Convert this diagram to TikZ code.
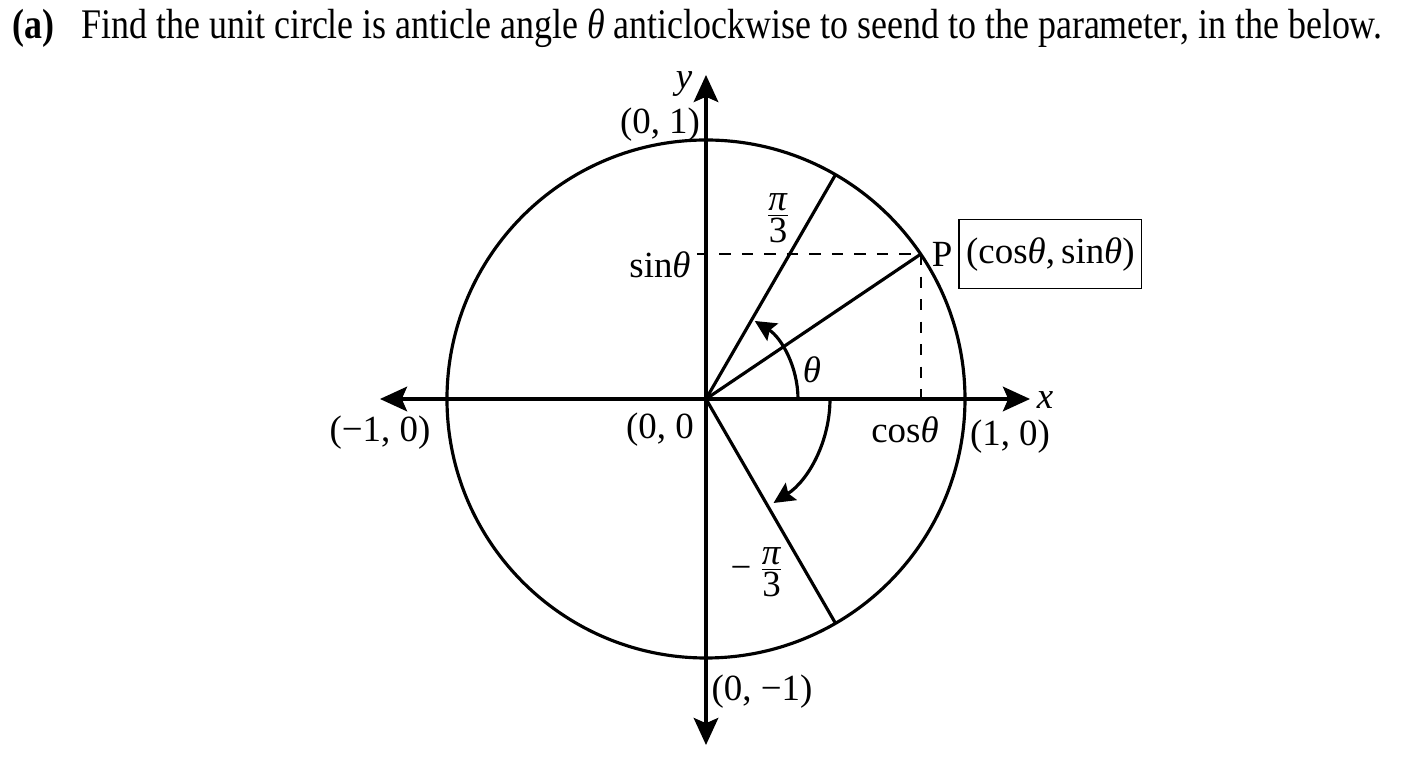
\documentclass[tikz,border=0pt]{standalone}
\usepackage{fontspec}
\setmainfont{Liberation Serif}
\usetikzlibrary{arrows.meta,positioning}

\newcommand{\angth}{\textit{θ}}
\newcommand{\angpi}{\textit{π}}

\begin{document}
\begin{tikzpicture}[
  axis/.style={line width=0.9pt,-{Stealth[length=7.7pt,width=7pt,inset=1.5pt]}},
  ray/.style={line width=0.9pt},
  guide/.style={line width=0.6pt,dash pattern=on 3.2pt off 3.2pt},
  turn/.style={line width=0.9pt,-{Stealth[length=6pt,width=5.8pt,inset=1pt]}},
  lbl/.style={font=\fontsize{10.5}{12}\selectfont,inner sep=1pt},
]
\useasboundingbox (-7.06,-3.69) rectangle (7.02,3.99);

% points on the unit circle
\coordinate (O) at (0,0);
\coordinate (P) at (34:2.59);
\coordinate (A) at (60:2.59);
\coordinate (B) at (-60:2.59);
\coordinate (xl) at (-3.26,0);
\coordinate (xr) at (3.24,0);
\coordinate (yt) at (0,3.24);
\coordinate (yb) at (0,-3.46);
\coordinate (sy) at ([xshift=-2.6pt]O |- P);
\coordinate (cx) at (O -| P);

\node[font=\fontsize{12}{14}\selectfont,anchor=base west,inner sep=0pt,xscale=0.852,transform shape] (title) at (-6.94,3.6)
  {\textbf{(a)}\hspace{0.75em}Find the unit circle is anticle angle \angth\ anticlockwise to seend to the parameter, in the below.};

\draw[line width=0.9pt] (O) circle (2.59);
\draw[axis] (O) -- (xr);
\draw[axis] (O) -- (xl);
\draw[axis] (O) -- (yt);
\draw[axis] (O) -- (yb);
\draw[ray] (O) -- (A);
\draw[ray] (O) -- (P);
\draw[ray] (O) -- (B);
\draw[guide] (sy) -- (P);
\draw[guide] (P) -- (cx);
\draw[turn] (O) ++(0:0.92) arc[start angle=0,end angle=58,radius=0.92];
\draw[turn] (O) ++(0:1.24) arc[start angle=0,end angle=-57,radius=1.24];

% labels
\node[lbl] (ylab) at (-0.22,3.15) {\textit{y}};
\node[lbl] (xlab) at (3.39,-0.01) {\textit{x}};
\node[lbl] (top) at (-0.46,2.74) {(0, 1)};
\node[lbl] (bot) at (0.56,-2.93) {(0, −1)};
\node[lbl] (lft) at (-3.26,-0.34) {(−1, 0)};
\node[lbl] (rgt) at (3.04,-0.38) {(1, 0)};
\node[lbl] (orig) at (-0.46,-0.31) {(0, 0};
\node[lbl] (sin) at (-0.46,1.34) {sin\angth};
\node[lbl] (cos) at (1.99,-0.31) {cos\angth};
\node[lbl] (th) at (1.06,0.29) {\angth};
\node[lbl] (pi) at (0.72,1.81) {$\frac{\mbox{\angpi}}{\mbox{3}}$};
\node[lbl] (mpi) at (0.52,-1.73) {−\,$\frac{\mbox{\angpi}}{\mbox{3}}$};
\node[lbl,anchor=west,inner sep=3pt] (plab) at (P) {P};
\node[lbl,draw,line width=0.4pt,inner xsep=2pt,inner ysep=5pt,right=-1.5pt of plab] (pbox) {(cos\angth,\,sin\angth)};
\end{tikzpicture}
\end{document}
